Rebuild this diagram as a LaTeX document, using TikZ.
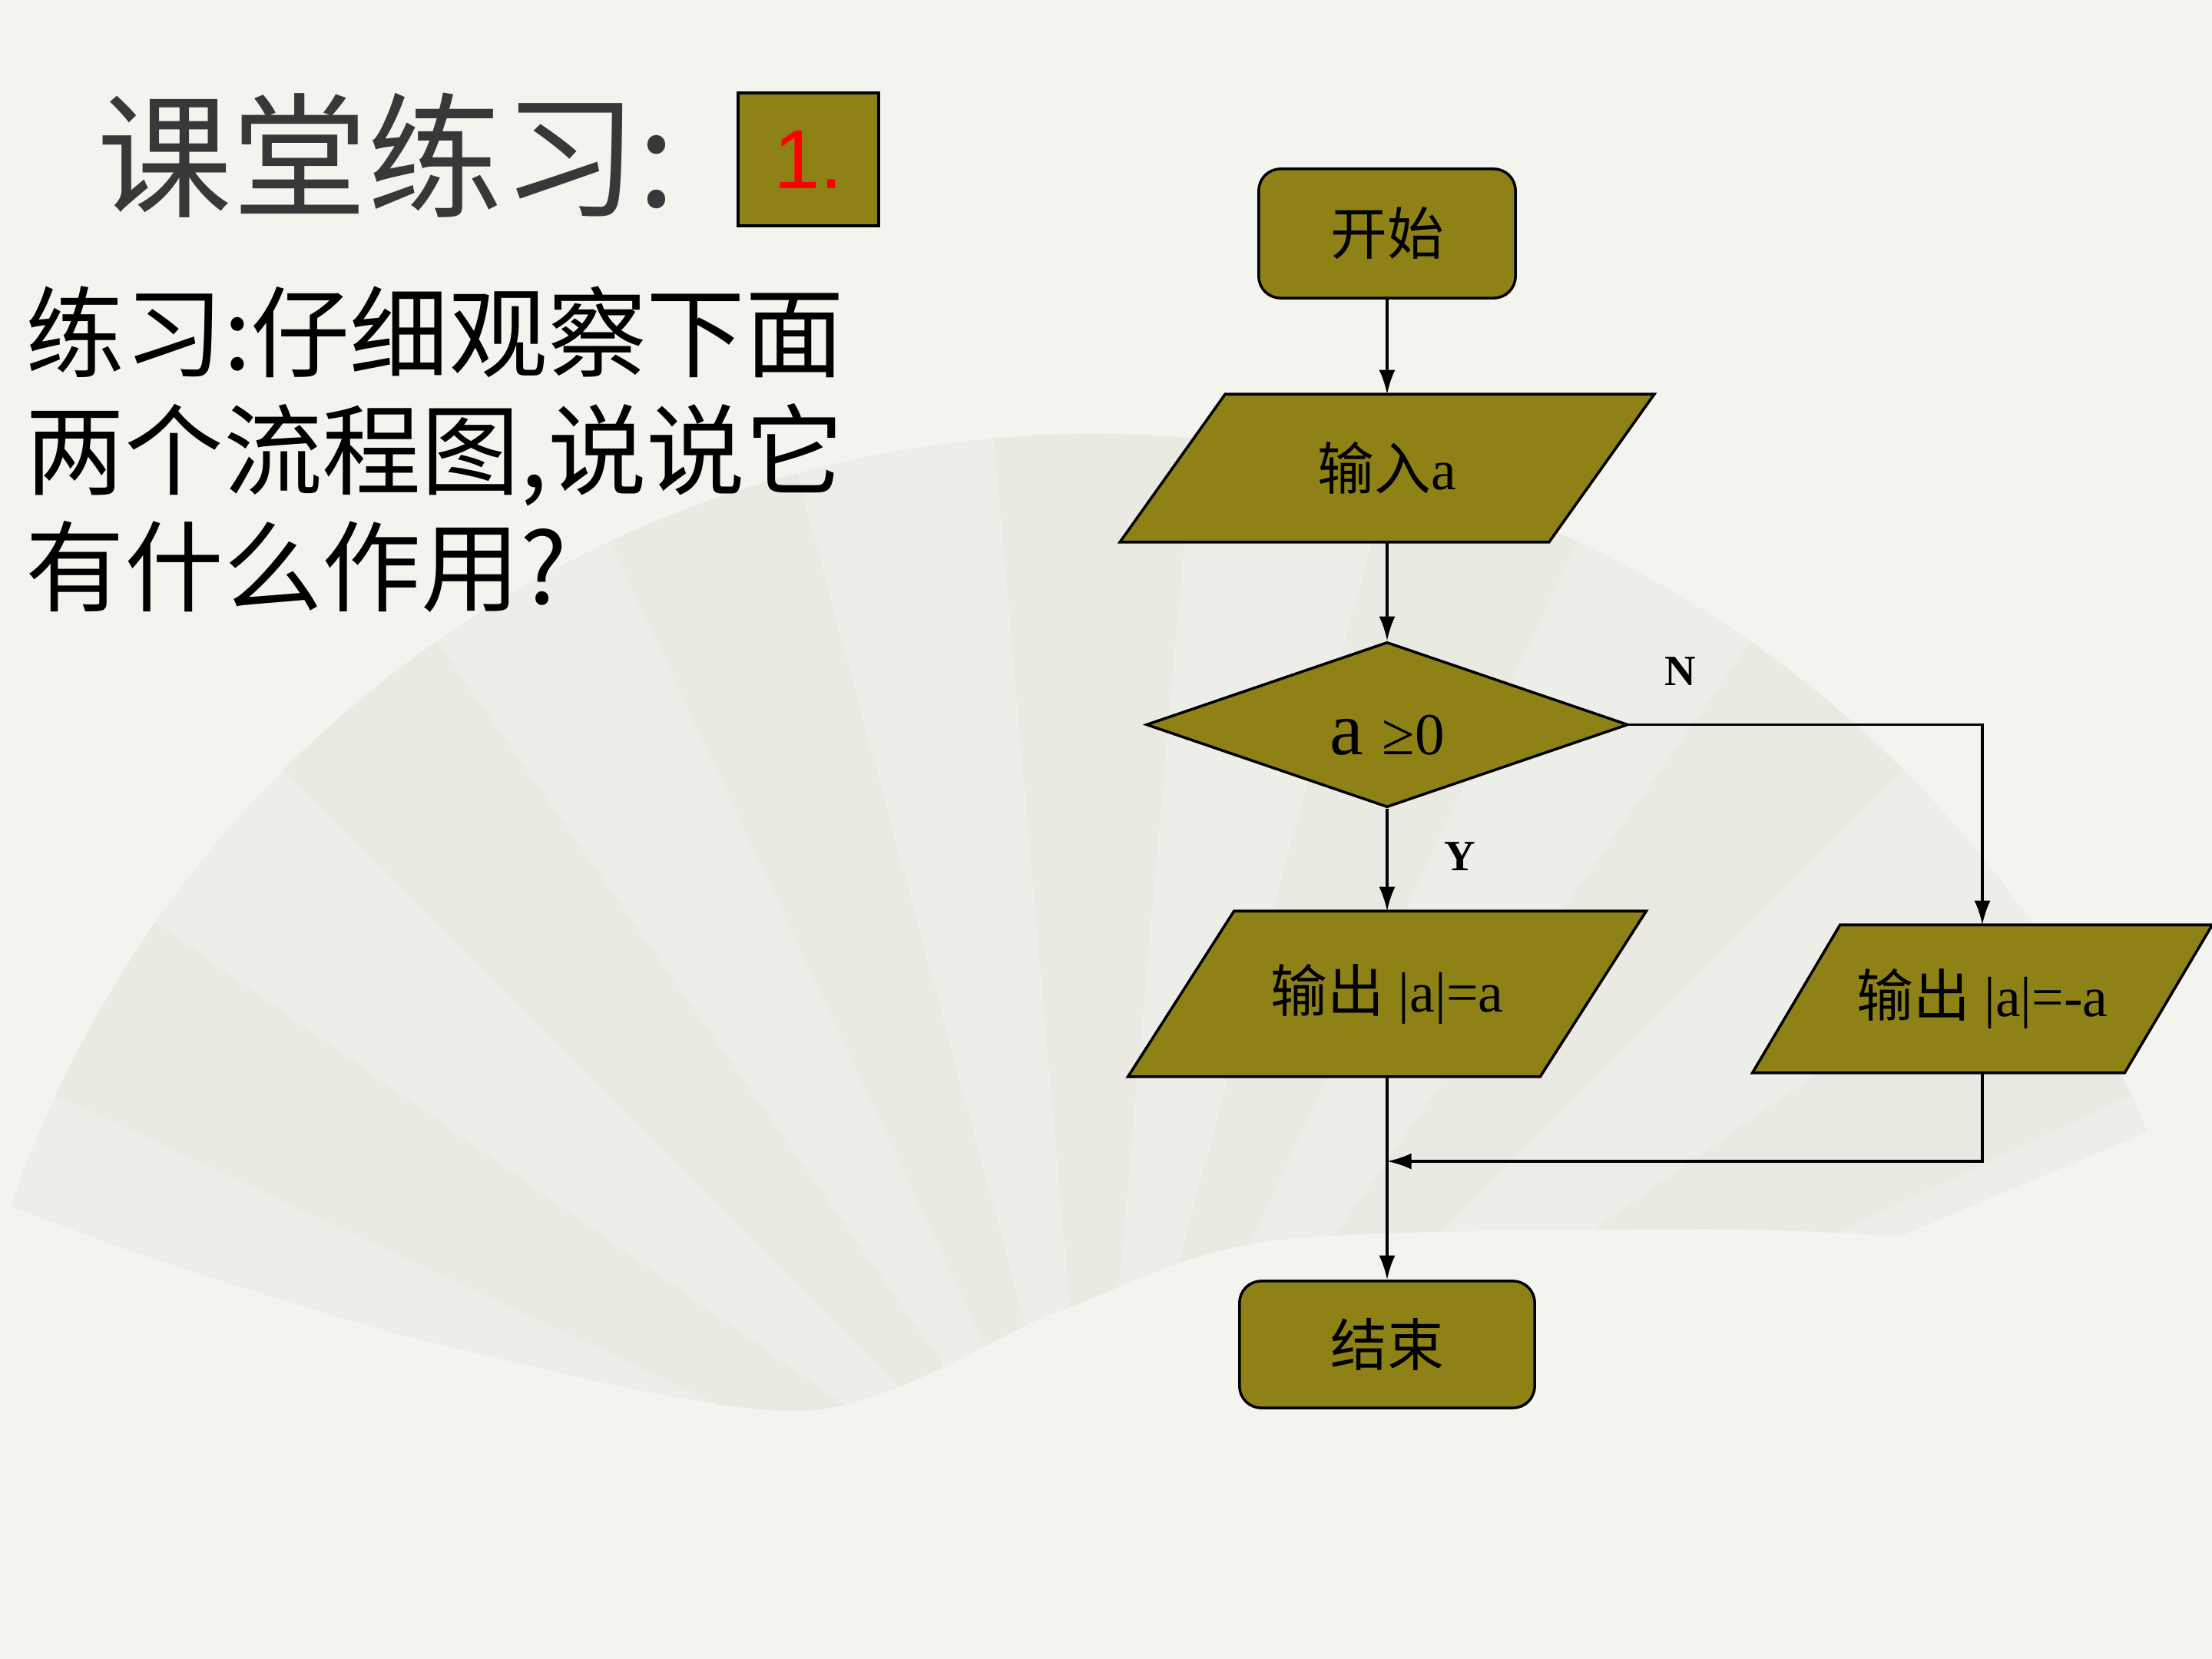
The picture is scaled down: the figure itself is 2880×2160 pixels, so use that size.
\documentclass[tikz,border=0pt]{standalone}
\usepackage{fontspec}
\setmainfont{Liberation Serif}
\newfontfamily\song{Noto Sans CJK SC}
\newfontfamily\hei{Noto Sans CJK SC}
\newfontfamily\arial{Liberation Sans}
\usetikzlibrary{shapes.geometric,arrows.meta,calc}
\definecolor{boxolive}{RGB}{142,130,23}
\definecolor{bgc}{RGB}{244,244,238}
\definecolor{fanA}{RGB}{238,238,232}
\definecolor{fanB}{RGB}{234,234,227}
\definecolor{titlegrey}{RGB}{56,56,56}
\pgfdeclarelayer{bg}\pgfdeclarelayer{shp}\pgfsetlayers{bg,shp,main}
\tikzset{
  flow/.style={draw=black, line width=1pt, fill=boxolive},
  term/.style={flow, rounded corners=8pt, inner sep=0pt, font=\song\fontsize{21}{25}\selectfont},
  io/.style={inner sep=0pt, font=\fontsize{21}{25}\selectfont},
  arr/.style={line width=1pt, -{Latex[length=9pt,width=6pt]}},
  lbl/.style={font=\bfseries\fontsize{16}{18}\selectfont},
  bodytext/.style={anchor=base west, inner sep=0pt, font=\song\fontsize{36.6}{40}\selectfont},
}
\newcommand\paragram[2]{%
  \begin{pgfonlayer}{shp}
    \filldraw[flow] ($(#1.north west)+(#2/2,0)$) -- ($(#1.north east)+(#2/2,0)$) -- ($(#1.south east)-(#2/2,0)$) -- ($(#1.south west)-(#2/2,0)$) -- cycle;
  \end{pgfonlayer}}
\begin{document}
\begin{tikzpicture}[x=0.01cm, y=-0.01cm]
\useasboundingbox (0,0) rectangle (2880,2160);
\begin{pgfonlayer}{bg}
  \fill[bgc] (0,0) rectangle (2880,2160);
  \begin{scope}
    \clip (158,1625) -- ($(14.23cm,-20.55cm)+(161:14.9cm)$) arc[start angle=161, end angle=23, radius=14.9cm]
      -- (2473,1610) -- plot[smooth] coordinates {(2473,1610) (2204,1600) (1653,1616) (1378,1708) (1047,1837) (551,1745) (158,1625)} -- cycle;
    \foreach \a [count=\i] in {15,25,...,165} {
      \ifodd\i\def\fc{fanA}\else\def\fc{fanB}\fi
      \fill[\fc] (14.23cm,-20.55cm) -- ++(\a:16cm) arc[start angle=\a, end angle=\a+10, radius=16cm] -- cycle;
    }
  \end{scope}
\end{pgfonlayer}

% title
\node[font=\hei\fontsize{50}{60}\selectfont, text=titlegrey, inner sep=0pt] (title) at (503,202) {课堂练习:};
\node[draw=black, line width=1pt, fill=boxolive, minimum width=1.83cm, minimum height=1.73cm, inner sep=0pt,
      text=red, font=\arial\fontsize{31}{36}\selectfont] (num) at (1052.5,207.5) {1.};

% question
\node[bodytext] (l1) at (33,481) {练习:仔细观察下面};
\node[bodytext] (l2) at (33,634) {两个流程图,说说它};
\node[bodytext] (l3) at (33,786) {有什么作用?};

% flowchart
\node[term, minimum width=3.34cm, minimum height=1.68cm] (start) at (1806,304) {开始};
\node[io, minimum width=5.57cm, minimum height=1.91cm] (in) at (1806,609.5) {{\song 输入}a};
\paragram{in}{137}
\node[diamond, flow, minimum width=6.27cm, minimum height=2.15cm, inner sep=0pt] (dec) at (1806,943.5)
  {\raisebox{-11pt}[0pt][0pt]{\fontsize{28}{30}\selectfont a \fontsize{22}{24}\selectfont ≥0}};
\node[io, minimum width=5.35cm, minimum height=2.14cm] (o1) at (1806,1294) {{\song 输出} |a|=a};
\paragram{o1}{138}
\node[io, minimum width=4.83cm, minimum height=1.91cm] (o2) at (2581,1300.5) {{\song 输出} |a|=-a};
\paragram{o2}{114}
\node[term, minimum width=3.84cm, minimum height=1.65cm] (end) at (1806,1750.5) {结束};
\coordinate (m) at (1806,1512);

\draw[arr] (start) -- (in);
\draw[arr] (in) -- (dec);
\draw[arr] (dec) -- (o1);
\draw[arr] (dec.east) -| (o2.north);
\draw[arr] (o2.south) |- (m);
\draw[arr] (o1) -- (end);

\node[lbl] (N) at (2188,874) {N};
\node[lbl] (Y) at (1901,1115) {Y};
\end{tikzpicture}
\end{document}
